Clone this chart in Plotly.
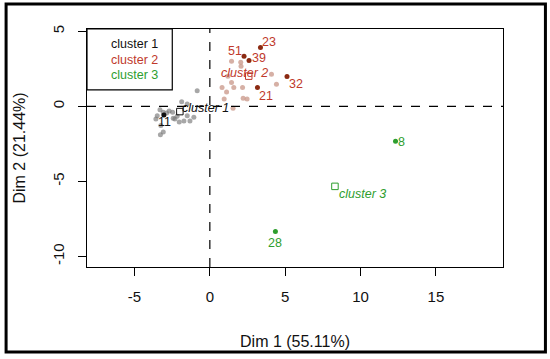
import plotly.graph_objects as go

# ---------------- data ----------------
cluster_names = ["cluster 1", "cluster 2", "cluster 3"]

# unlabelled individuals (faint)
c1_x = [-0.84, -1.87, -1.50, -3.31, -3.09, -2.70, -2.47, -3.58, -3.49, -3.25, -3.09,
        -2.43, -2.03, -1.72, -1.32, -1.50, -1.06, -2.17, -2.87, -2.32, -3.28]
c1_y = [1.03, 0.30, 0.15, -0.22, -0.39, -0.31, -0.39, -0.84, -0.62, -1.28, -1.71,
        -0.79, -1.05, -0.97, -0.97, -0.62, -0.72, -0.66, -0.44, -0.84, -1.90]
c2_x = [1.44, 2.05, 2.07, 4.09, 4.42, 0.81, 1.44, 1.59, 2.17, 1.11, 2.21, 2.47, 1.54, 0.95, 1.20]
c2_y = [3.00, 2.93, 2.67, 2.13, 1.47, 1.25, 1.58, 1.25, 1.25, 0.96, 0.53, 0.48, -0.13, 0.48, 2.00]

# labelled individuals
lab_names = ["23", "51", "39", "32", "21", "11", "8", "28"]
lab_x = [3.36, 2.27, 2.60, 5.12, 3.16, -3.05, 12.32, 4.35]
lab_y = [3.92, 3.33, 3.05, 1.99, 1.25, -0.57, -2.33, -8.34]
lab_cluster = [2, 2, 2, 2, 2, 1, 3, 3]

# cluster centres
cen_x = [-1.99, 2.58, 8.30]
cen_y = [-0.35, 2.01, -5.33]

x_ticks = [-5, 0, 5, 10, 15]
x_tick_text = ["-5", "0", "5", "10", "15"]
y_ticks = [-10, -5, 0, 5]
y_tick_text = ["-10", "-5", "0", "5"]
x_title = "Dim 1 (55.11%)"
y_title = "Dim 2 (21.44%)"

# ---------------- style ----------------
FONT = "Liberation Sans, Arial, sans-serif"
col_text = {1: "#111111", 2: "#C0392B", 3: "#2E9E2E"}
col_pt = {1: "#111111", 2: "#8B2A12", 3: "#2E9E2E"}
lab_offsets = {"23": (9, 5), "51": (-9, 5), "39": (10, 3), "32": (9, -8),
               "21": (9, -8), "11": (1, -7), "8": (6, -1), "28": (0, -11)}
cen_offsets = [(26, 4), (-4, 3), (28, -8)]

fig = go.Figure()

fig.add_trace(go.Scatter(x=c1_x, y=c1_y, mode="markers", showlegend=False,
                         marker=dict(size=5, color="rgba(120,120,120,0.65)", line=dict(width=0))))
fig.add_trace(go.Scatter(x=c2_x, y=c2_y, mode="markers", showlegend=False,
                         marker=dict(size=5, color="rgba(200,150,135,0.75)", line=dict(width=0))))

for k in (1, 2, 3):
    xs = [x for x, c in zip(lab_x, lab_cluster) if c == k]
    ys = [y for y, c in zip(lab_y, lab_cluster) if c == k]
    fig.add_trace(go.Scatter(x=xs, y=ys, mode="markers", showlegend=False,
                             marker=dict(size=5, color=col_pt[k], line=dict(width=0))))

fig.add_trace(go.Scatter(x=cen_x, y=cen_y, mode="markers", showlegend=False,
                         marker=dict(symbol="square-open", size=6.5,
                                     color=[col_text[1], col_text[2], col_text[3]],
                                     line=dict(width=1))))

annotations = []
for n, x, y, c in zip(lab_names, lab_x, lab_y, lab_cluster):
    dx, dy = lab_offsets[n]
    annotations.append(dict(x=x, y=y, xref="x", yref="y", text=n, showarrow=False,
                            xanchor="center", yanchor="middle", xshift=dx, yshift=dy,
                            font=dict(family=FONT, size=12.5, color=col_text[c])))
for i, (x, y) in enumerate(zip(cen_x, cen_y)):
    dx, dy = cen_offsets[i]
    annotations.append(dict(x=x, y=y, xref="x", yref="y", text="<i>%s</i>" % cluster_names[i],
                            showarrow=False, xanchor="center", yanchor="middle",
                            xshift=dx, yshift=dy,
                            font=dict(family=FONT, size=12.5, color=col_text[i + 1])))

# legend (text only, boxed)
leg_y = [0.937, 0.871, 0.806]
for i, name in enumerate(cluster_names):
    annotations.append(dict(x=0.114, y=leg_y[i], xref="paper", yref="paper", text=name,
                            showarrow=False, xanchor="center", yanchor="middle",
                            font=dict(family=FONT, size=12.5, color=col_text[i + 1])))

shapes = [
    dict(type="line", xref="x", yref="paper", x0=0, x1=0, y0=0, y1=1,
         line=dict(color="black", width=1.2, dash="dash")),
    dict(type="line", xref="paper", yref="y", x0=0, x1=1, y0=0, y1=0,
         line=dict(color="black", width=1.2, dash="dash")),
    dict(type="rect", xref="paper", yref="paper", x0=0, x1=0.205, y0=0.744, y1=1,
         line=dict(color="black", width=1.2), fillcolor="white", layer="above"),
    # outer frame of the picture
    dict(type="rect", xref="paper", yref="paper", x0=-0.1945, x1=1.102, y0=-0.357, y1=1.105,
         line=dict(color="black", width=3)),
]

axis_common = dict(showgrid=False, zeroline=False, showline=True, linecolor="black",
                   linewidth=1.2, mirror=True, ticks="outside", ticklen=8, tickwidth=1.2,
                   tickcolor="black", tickfont=dict(family=FONT, size=15, color="#111111"))

fig.update_layout(
    width=550, height=359,
    margin=dict(l=87, r=46.5, t=29, b=89),
    paper_bgcolor="white", plot_bgcolor="white",
    xaxis=dict(range=[-8.15, 19.45], tickvals=x_ticks, ticktext=x_tick_text,
               ticklabelstandoff=8,
               title=dict(text=x_title, standoff=31,
                          font=dict(family=FONT, size=16, color="#111111")),
               **axis_common),
    yaxis=dict(range=[-10.7, 5.15], tickvals=y_ticks, ticktext=y_tick_text,
               tickangle=-90, ticklabelstandoff=8,
               title=dict(text=y_title, standoff=20,
                          font=dict(family=FONT, size=16, color="#111111")),
               **axis_common),
    annotations=annotations, shapes=shapes, showlegend=False,
)

fig.write_html("out.html", config={"displayModeBar": False},
               post_script="document.body.style.margin='0';")
